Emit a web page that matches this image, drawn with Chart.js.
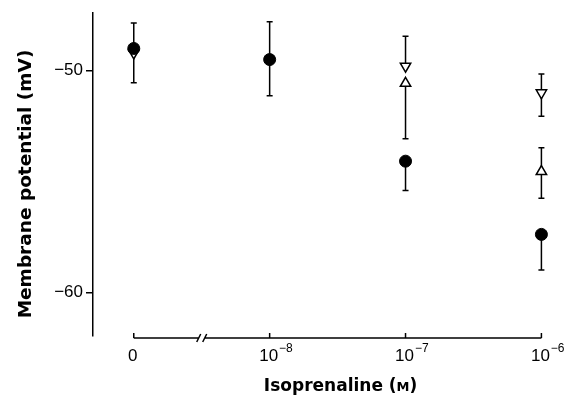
<!DOCTYPE html>
<html>
<head>
<meta charset="utf-8">
<script src="https://cdn.jsdelivr.net/npm/chart.js@4.4.1/dist/chart.umd.min.js"></script>
<style>
html,body{margin:0;padding:0;background:#fff;}
#wrap{width:574px;height:400px;}
</style>
</head>
<body>
<div id="wrap"><canvas id="c" width="574" height="400"></canvas></div>
<script>
// ---- data ----
const xPositions = [0, 1, 2, 3];
const xTickBase = ['0', '10', '10', '10'];
const xTickExp = ['', '−8', '−7', '−6'];
const yTicks = [-60, -50];
const xTitle = 'Isoprenaline (';
const xTitleUnit = 'M';
const yTitle = 'Membrane potential (mV)';

const circleMean  = [-49.0, -49.5, -54.08, -57.38];
const circlePlus  = [1.15, 1.7, 0, 0];
const circleMinus = [1.55, 1.63, 1.32, 1.6];

const downMean  = [-49.2, null, -49.8, -51.0];
const downPlus  = [0, 0, 1.35, 0.85];
const downMinus = [0, 0, 0, 1.05];

const upMean  = [null, null, -50.57, -54.55];
const upPlus  = [0, 0, 0, 1.08];
const upMinus = [0, 0, 2.5, 1.2];

function pts(mean, plus, minus) {
  const out = [];
  mean.forEach((v, i) => {
    if (v !== null) out.push({x: xPositions[i], y: v, p: plus[i], m: minus[i]});
  });
  return out;
}

const TICKFONT = '"Liberation Sans", Arial, sans-serif';
const TITLEFONT = '"DejaVu Sans", sans-serif';

const errorBars = {
  id: 'errorBars',
  beforeDatasetsDraw(chart) {
    const ctx = chart.ctx, xs = chart.scales.x, ys = chart.scales.y;
    ctx.save();
    ctx.strokeStyle = '#000';
    ctx.lineWidth = 1.5;
    chart.data.datasets.forEach(ds => {
      ds.data.forEach(d => {
        const px = xs.getPixelForValue(d.x);
        const top = ys.getPixelForValue(d.y + d.p);
        const bot = ys.getPixelForValue(d.y - d.m);
        ctx.beginPath();
        ctx.moveTo(px, top); ctx.lineTo(px, bot);
        if (d.p > 0) { ctx.moveTo(px - 3, top); ctx.lineTo(px + 3, top); }
        if (d.m > 0) { ctx.moveTo(px - 3, bot); ctx.lineTo(px + 3, bot); }
        ctx.stroke();
      });
    });
    ctx.restore();
  },
  afterDraw(chart) {
    const ctx = chart.ctx, xs = chart.scales.x;
    const ca = chart.chartArea;
    const yAx = ca.bottom + 2;
    ctx.save();
    ctx.strokeStyle = '#000';
    ctx.lineWidth = 1.5;
    const x0 = xs.getPixelForValue(xPositions[0]);
    const x3 = xs.getPixelForValue(xPositions[xPositions.length - 1]);
    const brk = xs.getPixelForValue(0.5);
    ctx.beginPath();
    ctx.moveTo(x0, yAx); ctx.lineTo(brk - 3, yAx);
    ctx.moveTo(brk + 3, yAx); ctx.lineTo(x3, yAx);
    ctx.moveTo(brk - 5, yAx + 4); ctx.lineTo(brk - 1, yAx - 4);
    ctx.moveTo(brk + 1, yAx + 4); ctx.lineTo(brk + 5, yAx - 4);
    xPositions.forEach(v => {
      const px = xs.getPixelForValue(v);
      ctx.moveTo(px, yAx); ctx.lineTo(px, yAx - 5);
    });
    ctx.stroke();
    // x tick labels
    ctx.fillStyle = '#000';
    ctx.textBaseline = 'alphabetic';
    ctx.textAlign = 'left';
    xPositions.forEach((v, i) => {
      const px = xs.getPixelForValue(v);
      ctx.font = '17px ' + TICKFONT;
      const wb = ctx.measureText(xTickBase[i]).width;
      const start = px - 1 - wb / 2;
      ctx.fillText(xTickBase[i], start, 361);
      ctx.font = '12px ' + TICKFONT;
      ctx.fillText(xTickExp[i], start + wb + 1, 352);
    });
    // x title
    ctx.font = 'bold 17px ' + TITLEFONT;
    const w1 = ctx.measureText(xTitle).width;
    const w3 = ctx.measureText(')').width;
    ctx.font = 'bold 13px ' + TITLEFONT;
    const w2 = ctx.measureText(xTitleUnit).width;
    const cx = (x0 + x3) / 2 + 3;
    const sx = cx - (w1 + w2 + w3) / 2;
    ctx.font = 'bold 17px ' + TITLEFONT;
    ctx.fillText(xTitle, sx, 391);
    ctx.font = 'bold 13px ' + TITLEFONT;
    ctx.fillText(xTitleUnit, sx + w1, 391);
    ctx.font = 'bold 17px ' + TITLEFONT;
    ctx.fillText(')', sx + w1 + w2, 391);
    // y title
    ctx.save();
    ctx.translate(31, 184);
    ctx.rotate(-Math.PI / 2);
    ctx.font = 'bold 18.5px ' + TITLEFONT;
    ctx.textAlign = 'center';
    ctx.textBaseline = 'alphabetic';
    ctx.fillText(yTitle, 0, 0);
    ctx.restore();
    ctx.restore();
  }
};

new Chart(document.getElementById('c'), {
  type: 'scatter',
  data: {
    datasets: [
      {
        label: 'control',
        data: pts(circleMean, circlePlus, circleMinus),
        pointStyle: 'circle', pointRadius: 6, pointHoverRadius: 6,
        backgroundColor: '#000', borderColor: '#000', borderWidth: 1
      },
      {
        label: 'down',
        data: pts(downMean, downPlus, downMinus),
        pointStyle: 'triangle', pointRotation: 180, pointRadius: 6, pointHoverRadius: 6,
        backgroundColor: '#fff', borderColor: '#000', borderWidth: 1.5
      },
      {
        label: 'up',
        data: pts(upMean, upPlus, upMinus),
        pointStyle: 'triangle', pointRadius: 6, pointHoverRadius: 6,
        backgroundColor: '#fff', borderColor: '#000', borderWidth: 1.5
      }
    ]
  },
  plugins: [errorBars],
  options: {
    responsive: false,
    animation: false,
    events: [],
    layout: {padding: {top: 10, bottom: 64, right: 19, left: 0}},
    plugins: {legend: {display: false}, tooltip: {enabled: false}},
    scales: {
      x: {type: 'linear', min: -0.3, max: 3.1, display: false},
      y: {
        type: 'linear', position: 'left', min: -61.96, max: -47.41,
        afterFit(s) { s.width = 93; },
        afterBuildTicks(s) { s.ticks = yTicks.map(v => ({value: v})); },
        grid: {drawOnChartArea: false, drawTicks: true, tickLength: 7, color: '#000', lineWidth: 1.5},
        border: {display: true, color: '#000', width: 1.5},
        ticks: {
          color: '#000', padding: 3,
          font: {family: TICKFONT, size: 17},
          callback: v => '−' + Math.abs(v)
        }
      }
    }
  }
});
</script>
</body>
</html>
